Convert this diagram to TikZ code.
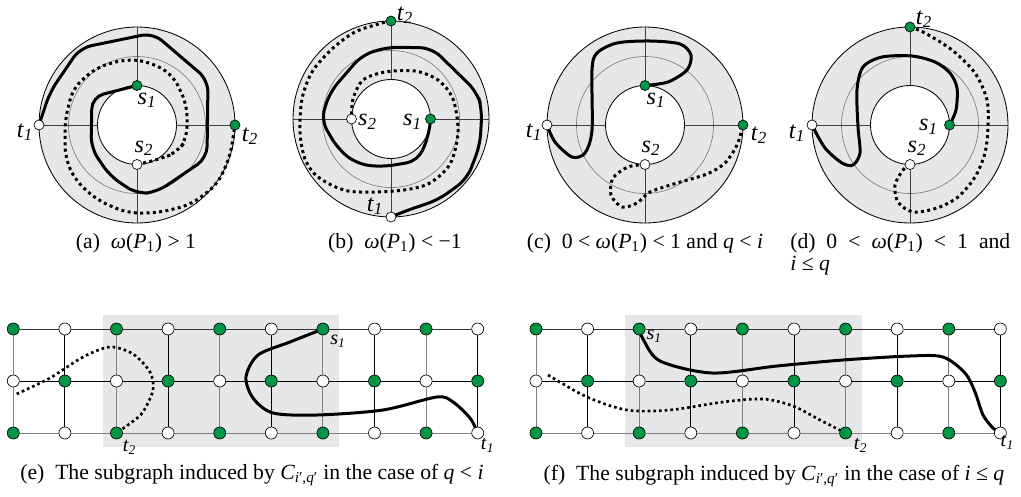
\documentclass[tikz,border=0pt]{standalone}
\usepackage{fontspec}
\setmainfont{Liberation Serif}
\usetikzlibrary{backgrounds}
\definecolor{dotgreen}{RGB}{0,150,70}
\definecolor{ringgrey}{HTML}{E6E7E8}
\newcommand{\vlab}[2]{\textit{#1}\textsubscript{\textit{#2}}}
\newcommand{\omP}{\textit{ω}(\textit{P}\textsubscript{1})}

\begin{document}
\begin{tikzpicture}[x=0.6pt, y=-0.6pt,
  every node/.style={font=\fontsize{13}{13.5}\selectfont},
  gdot/.style={circle, draw, fill=dotgreen, inner sep=0pt, minimum size=6pt, line width=0.4pt},
  wdot/.style={circle, draw, fill=white, inner sep=0pt, minimum size=6pt, line width=0.4pt},
  ggdot/.style={gdot, minimum size=7.2pt},
  gwdot/.style={wdot, minimum size=7.2pt},
  lbl/.style={inner sep=0pt, font=\fontsize{14.5}{15}\selectfont},
  glbl/.style={inner sep=0pt, font=\fontsize{12}{13}\selectfont},
  solidpath/.style={line width=1.8pt, line join=round, line cap=round},
  dotpath/.style={line width=1.8pt, dash pattern=on 1.8pt off 2pt},
  griddot/.style={line width=1.6pt, dash pattern=on 1.6pt off 1.8pt},
  captext/.style={inner sep=0pt}]
\useasboundingbox (0,0) rectangle (1021,497);

% annuli
\begin{scope}[on background layer]
\foreach \cx/\cy in {137/125, 391/119, 645/125, 910/125} {
  \fill[ringgrey] (\cx,\cy) circle (98);
  \fill[white] (\cx,\cy) circle (39.5);
  \draw[gray, line width=0.4pt] (\cx,\cy) circle (68.5);
  \draw[black!75, line width=0.3pt]
    (\cx,\cy) ++(-98,0) -- ++(58.5,0) (\cx,\cy) ++(98,0) -- ++(-58.5,0)
    (\cx,\cy) ++(0,-98) -- ++(0,58.5) (\cx,\cy) ++(0,98) -- ++(0,-58.5);
  \draw[line width=0.5pt] (\cx,\cy) circle (98) (\cx,\cy) circle (39.5);
}
\fill[ringgrey] (103.3,315) rectangle (339.3,446.7);
\fill[ringgrey] (625,315) rectangle (861.7,446.7);
\end{scope}

% terminals on the annuli
\node[wdot] (a-t1) at (39,125) {};
\node[gdot] (a-t2) at (235,125) {};
\node[gdot] (a-s1) at (137,85.5) {};
\node[wdot] (a-s2) at (137,164.5) {};
\node[wdot] (b-t1) at (391,217) {};
\node[gdot] (b-t2) at (391,21) {};
\node[gdot] (b-s1) at (430.5,119) {};
\node[wdot] (b-s2) at (351.5,119) {};
\node[wdot] (c-t1) at (547,125) {};
\node[gdot] (c-t2) at (743,125) {};
\node[gdot] (c-s1) at (645,85.5) {};
\node[wdot] (c-s2) at (645,164.5) {};
\node[wdot] (d-t1) at (812,125) {};
\node[gdot] (d-t2) at (910,27) {};
\node[gdot] (d-s1) at (949.5,125) {};
\node[wdot] (d-s2) at (910,164.5) {};

% grids
\foreach \g/\gx in {e/13.3, f/536} {
  \foreach \i in {1,...,10} {
    \foreach \j in {1,2,3} {
      \pgfmathtruncatemacro\parity{mod(\i+\j,2)}
      \ifnum\parity=0 \def\st{ggdot}\else\def\st{gwdot}\fi
      \node[\st] (\g-\i-\j) at (\gx+51.6*\i-51.6, 329+52*\j-52) {};
    }
  }
}
\begin{scope}[on background layer]
\foreach \g in {e,f} {
  \foreach \i in {1,...,10} {
    \pgfmathtruncatemacro\parity{mod(\i,2)}
    \ifnum\parity=1 \def\col{gray}\else\def\col{black}\fi
    \draw[\col, line width=0.6pt] (\g-\i-1) -- (\g-\i-2) -- (\g-\i-3);
  }
  \foreach \i in {1,...,9} {
    \pgfmathtruncatemacro\nx{\i+1}
    \draw[black!80, line width=0.6pt] (\g-\i-1) -- (\g-\nx-1);
    \draw[black, line width=0.6pt] (\g-\i-2) -- (\g-\nx-2);
    \draw[gray, line width=0.6pt] (\g-\i-3) -- (\g-\nx-3);
  }
}
\coordinate (e-end) at (16.7,394);
\coordinate (f-end) at (548,375);

% paths
\draw[solidpath, rounded corners=7pt] (a-t1.center) -- (50,92) -- (80,48) -- (153,33)
  -- (208,80) -- (207,158) -- (157,192) -- (137,194) -- (110,176) -- (91,148)
  -- (92,97) -- (a-s1.center);
\draw[dotpath, rounded corners=7pt] (a-s2.center) -- (160,159) -- (178,152) -- (187,138)
  -- (187,105) -- (173,75) -- (150,62) -- (127,59) -- (97,67) -- (73,88) -- (65,120)
  -- (65,157) -- (75,180) -- (97,200) -- (127,213) -- (157,213) -- (190,205)
  -- (217,185) -- (230,157) -- (a-t2.center);
\draw[solidpath, rounded corners=7pt] (b-s1.center) -- (429,135) -- (418,161) -- (382,167)
  -- (357,164) -- (338,149) -- (321,120) -- (330,92) -- (362,55) -- (388,47)
  -- (432,48) -- (477,92) -- (482,109) -- (480,145) -- (467,179) -- (438,200)
  -- (408,210) -- (b-t1.center);
\draw[dotpath] plot[smooth] coordinates {(b-t2.center) (382,23) (355,32) (332,49) (312,72)
  (302,99) (300,132) (305,159) (318,177) (348,191) (395,191) (428,184) (450,164)
  (458,132) (453,99) (438,80) (415,71) (385,72) (363,80) (353,99) (b-s2.center)};
\draw[solidpath] plot[smooth] coordinates {(c-s1.center) (668,82) (687,70) (691,55)
  (680,44) (650,41) (617,43) (597,53) (592,70) (592,130) (585,153) (572,157)
  (555,142) (c-t1.center)};
\draw[dotpath] plot[smooth] coordinates {(c-s2.center) (628,167) (613,178) (611,195)
  (622,207) (637,203) (650,192) (677,183) (707,174) (725,163) (737,145) (c-t2.center)};
\draw[solidpath] plot[smooth] coordinates {(d-s1.center) (956,110) (957,88) (950,73)
  (935,62) (912,56) (882,57) (863,67) (857,90) (858,127) (860,153) (853,165)
  (842,163) (825,148) (d-t1.center)};
\draw[dotpath] plot[smooth] coordinates {(d-t2.center) (925,33) (952,50) (975,73)
  (987,100) (988,127) (985,153) (975,177) (958,197) (937,208) (913,212) (898,202)
  (895,185) (903,170) (d-s2.center)};
\draw[solidpath] plot[smooth] coordinates {(e-7-1.center) (290,342) (258,355) (246,377)
  (253,398) (273,413) (317,415) (383,410) (437,397) (453,402) (470,418) (e-10-3.center)};
\draw[griddot] plot[smooth] coordinates {(e-end) (50,378) (83,357) (110,347) (133,354)
  (150,372) (153,390) (143,412) (132,422) (e-3-3.center)};
\draw[solidpath] plot[smooth] coordinates {(f-3-1.center) (643,339) (660,361) (712,373)
  (777,366) (843,360) (910,356) (943,357) (965,373) (975,392) (983,415) (993,428)
  (f-10-3.center)};
\draw[griddot] plot[smooth] coordinates {(f-end) (587,397) (627,410) (670,410) (723,402)
  (763,399) (793,406) (820,420) (f-7-3.center)};
\end{scope}

% labels
\node[lbl] at ([shift={(10,15)}]a-s1) {\vlab{s}{1}};
\node[lbl] at ([shift={(7,-16)}]a-s2) {\vlab{s}{2}};
\node[lbl] at ([shift={(-14,7)}]a-t1) {\vlab{t}{1}};
\node[lbl] at ([shift={(15,11)}]a-t2) {\vlab{t}{2}};
\node[lbl] at ([shift={(14,-6)}]b-t2) {\vlab{t}{2}};
\node[lbl] at ([shift={(16,3)}]b-s2) {\vlab{s}{2}};
\node[lbl] at ([shift={(-18,3)}]b-s1) {\vlab{s}{1}};
\node[lbl] at ([shift={(-16,-11)}]b-t1) {\vlab{t}{1}};
\node[lbl] at ([shift={(11,15)}]c-s1) {\vlab{s}{1}};
\node[lbl] at ([shift={(6,-16)}]c-s2) {\vlab{s}{2}};
\node[lbl] at ([shift={(-13,7)}]c-t1) {\vlab{t}{1}};
\node[lbl] at ([shift={(16,10)}]c-t2) {\vlab{t}{2}};
\node[lbl] at ([shift={(14,-8)}]d-t2) {\vlab{t}{2}};
\node[lbl] at ([shift={(-21,2)}]d-s1) {\vlab{s}{1}};
\node[lbl] at ([shift={(7,-16)}]d-s2) {\vlab{s}{2}};
\node[lbl] at ([shift={(-15,8)}]d-t1) {\vlab{t}{1}};
\node[glbl] at ([shift={(15,12)}]e-7-1) {\vlab{s}{1}};
\node[glbl] at ([shift={(13,14)}]e-3-3) {\vlab{t}{2}};
\node[glbl] at ([shift={(10,12)}]e-10-3) {\vlab{t}{1}};
\node[glbl] at ([shift={(15,7)}]f-3-1) {\vlab{s}{1}};
\node[glbl] at ([shift={(15,12)}]f-7-3) {\vlab{t}{2}};
\node[glbl] at ([shift={(7,9)}]f-10-3) {\vlab{t}{1}};

% captions
\node[captext] (cap-a) at (136,243) {(a)\enspace \omP{} > 1};
\node[captext] (cap-b) at (395,243) {(b)\enspace \omP{} < −1};
\node[captext] (cap-c) at (645,243) {(c)\enspace 0 < \omP{} < 1 and \textit{q} < \textit{i}};
\node[captext, anchor=north west, align=left] (cap-d) at (790,233)
  {\makebox[132pt][s]{(d)\enspace 0 < \omP{} < 1 and}\\ \textit{i} ≤ \textit{q}};
\node[captext] (cap-e) at (252,475)
  {(e)\enspace The subgraph induced by \textit{C}\textsubscript{\textit{i}′,\textit{q}′} in the case of \textit{q} < \textit{i}};
\node[captext] (cap-f) at (774,476)
  {(f)\enspace The subgraph induced by \textit{C}\textsubscript{\textit{i}′,\textit{q}′} in the case of \textit{i} ≤ \textit{q}};
\end{tikzpicture}
\end{document}
